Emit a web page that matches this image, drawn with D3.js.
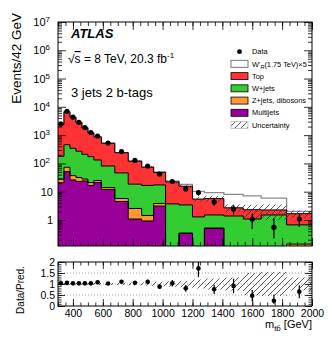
<!DOCTYPE html>
<html>
<head>
<meta charset="utf-8">
<script src="https://cdn.jsdelivr.net/npm/d3@7"></script>
<style>
body { margin: 0; background: #fff; }
text { font-family: "Liberation Sans", Arial, Helvetica, sans-serif; fill: #000; }
</style>
</head>
<body>
<div id="chart"></div>
<script>
// m_tb bins (GeV) and contents in events / 42 GeV
var binEdges = [300,340,380,420,460,500,540,590,680,770,860,940,1020,1110,1200,1280,1410,1540,1660,1830,2000];
var multijets     = [20.8,51,26,23,24,16.6,21,12,4.5,1.08,0.92,3.1,0,0.34,0,0.51,0,0,0,0];
var zjetsDibosons = [6.6,22,11,8.8,4,4.4,3.9,2,1.25,1.47,0.52,0.73,0,0,0,0,0,0,0,0.14];
var wjets         = [150.6,385,305,238,182,152,107,67,40.3,15.9,15.2,13.5,3.7,3.06,1.28,0.99,1.38,1.08,1.5,0.53];
var topBkg        = [2217,6147,3891,2481,1593,1027,728,435,193,101.6,57,30.7,18.5,12.2,4.2,4.2,1.31,1.22,0.76,1.0];
var wprimeX5      = [0.1,0.1,0.1,0.1,0.15,0.15,0.2,0.3,0.4,0.6,0.8,1.1,1.5,2.6,4.7,3.5,5.3,4.75,3.7,0.35];
var dataVals      = [2467,6935,4360,2834,1857,1236,929,526,263,127,81,42.2,22.9,12.5,9.37,4.33,2.45,1.08,0.543,1.08];
var dataErrUp     = [50,85,68,55,44,36,28,16,11,7.7,6.5,4.7,3.3,2.4,2.2,1.2,0.89,0.6,0.6,0.5];
var dataErrDn     = [50,85,68,55,44,36,28,16,11,7.7,6.5,4.7,3.3,2.4,2.2,1.2,0.89,0.6,0.32,0.5];
var bkgRelUnc     = [0.03,0.03,0.03,0.03,0.03,0.04,0.04,0.05,0.06,0.07,0.08,0.1,0.12,0.15,0.2,0.25,0.3,0.5,0.55,0.3];

var xTickLabels = [400,600,800,1000,1200,1400,1600,1800,2000];
var yDecades = [1,10,100,1000,10000,100000,1000000,10000000];
var ratioTicks = [0,0.5,1,1.5,2];
var legendNames = ["Data","W'R(1.75 TeV)\u00d75","Top","W+jets","Z+jets, dibosons","Multijets","Uncertainty"];

var colors = {mj: "#990099", zj: "#ff9933", wj: "#33cc33", top: "#ff3333"};

var W = 332, H = 344;
var left = 58, right = 312, mainTop = 22, mainBot = 246, ratTop = 262, ratBot = 306;

var svg = d3.select("#chart").append("svg")
    .attr("width", W).attr("height", H);

var defs = svg.append("defs");
var hatch = defs.append("pattern").attr("id", "hatch")
    .attr("patternUnits", "userSpaceOnUse").attr("width", 6).attr("height", 6);
hatch.append("path").attr("d", "M0,6 L6,0 M-1,1 L1,-1 M5,7 L7,5")
    .attr("stroke", "#333").attr("stroke-width", 0.8);
defs.append("clipPath").attr("id", "clipMain").append("rect")
    .attr("x", left).attr("y", mainTop).attr("width", right - left).attr("height", mainBot - mainTop);
defs.append("clipPath").attr("id", "clipRatio").append("rect")
    .attr("x", left).attr("y", ratTop).attr("width", right - left).attr("height", ratBot - ratTop);

var x = d3.scaleLinear().domain([300, 2000]).range([left, right]);
var y = d3.scaleLog().domain([0.12, 1e7]).range([mainBot, mainTop]);
var yr = d3.scaleLinear().domain([0, 2]).range([ratBot, ratTop]);
var clampV = function(v) { return Math.max(v, 0.05); };

var bins = binEdges.slice(0, -1).map(function(lo, i) {
    return {lo: lo, hi: binEdges[i + 1], mj: multijets[i], zj: zjetsDibosons[i], wj: wjets[i], top: topBkg[i]};
});
var stack = d3.stack().keys(["mj", "zj", "wj", "top"])(bins);
var total = bins.map(function(b) { return b.mj + b.zj + b.wj + b.top; });

function steps(lowF, highF) {
    var pts = [];
    bins.forEach(function(b, i) {
        pts.push([b.lo, lowF(i), highF(i)]);
        pts.push([b.hi, lowF(i), highF(i)]);
    });
    return pts;
}

var area = d3.area()
    .x(function(d) { return x(d[0]); })
    .y0(function(d) { return y(clampV(d[1])); })
    .y1(function(d) { return y(clampV(d[2])); });
var topLine = d3.line()
    .x(function(d) { return x(d[0]); })
    .y(function(d) { return y(clampV(d[2])); });

var gMain = svg.append("g").attr("clip-path", "url(#clipMain)");

// signal stacked on background, drawn behind the stack
var sigPts = steps(function() { return 0.05; }, function(i) { return total[i] + wprimeX5[i]; });
gMain.append("path").attr("d", area(sigPts)).attr("fill", "#fff");
gMain.append("path").attr("d", topLine(sigPts))
    .attr("fill", "none").attr("stroke", "#8c8c8c").attr("stroke-width", 1.3);

stack.forEach(function(s) {
    var pts = steps(function(i) { return s[i][0]; }, function(i) { return s[i][1]; });
    gMain.append("path").attr("d", area(pts)).attr("fill", colors[s.key]);
});
stack.forEach(function(s) {
    var pts = steps(function(i) { return s[i][0]; }, function(i) { return s[i][1]; });
    gMain.append("path").attr("d", topLine(pts))
        .attr("fill", "none").attr("stroke", "#000").attr("stroke-width", 1);
});

// uncertainty band
var uncPts = steps(function(i) { return total[i] * (1 - bkgRelUnc[i]); },
                   function(i) { return total[i] * (1 + bkgRelUnc[i]); });
gMain.append("path").attr("d", area(uncPts)).attr("fill", "url(#hatch)");

// data
var gData = gMain.append("g");
bins.forEach(function(b, i) {
    var cx = x((b.lo + b.hi) / 2);
    gData.append("line").attr("x1", cx).attr("x2", cx)
        .attr("y1", y(clampV(dataVals[i] - dataErrDn[i]))).attr("y2", y(dataVals[i] + dataErrUp[i]))
        .attr("stroke", "#000").attr("stroke-width", 1.2);
    gData.append("circle").attr("cx", cx).attr("cy", y(dataVals[i])).attr("r", 2.6).attr("fill", "#000");
});

// ratio panel
var gRat = svg.append("g").attr("clip-path", "url(#clipRatio)");
[0.5, 1, 1.5].forEach(function(v) {
    gRat.append("line").attr("x1", left).attr("x2", right).attr("y1", yr(v)).attr("y2", yr(v))
        .attr("stroke", "#888").attr("stroke-width", 0.8).attr("stroke-dasharray", "1,2");
});
var ratArea = d3.area()
    .x(function(d) { return x(d[0]); })
    .y0(function(d) { return yr(d[1]); })
    .y1(function(d) { return yr(d[2]); });
gRat.append("path")
    .attr("d", ratArea(steps(function(i) { return 1 - bkgRelUnc[i]; }, function(i) { return 1 + bkgRelUnc[i]; })))
    .attr("fill", "url(#hatch)");
bins.forEach(function(b, i) {
    var cx = x((b.lo + b.hi) / 2);
    var r = dataVals[i] / total[i];
    gRat.append("line").attr("x1", cx).attr("x2", cx)
        .attr("y1", yr(r - dataErrDn[i] / total[i])).attr("y2", yr(r + dataErrUp[i] / total[i]))
        .attr("stroke", "#000").attr("stroke-width", 1.2);
    gRat.append("circle").attr("cx", cx).attr("cy", yr(r)).attr("r", 2.3).attr("fill", "#000");
});

// axes and ticks (ROOT style: ticks inside on all sides)
var xMinor = d3.range(300, 2001, 50);
function xTicks(yPos, len, lenMin, orient) {
    var ax = orient === "bottom" ? d3.axisBottom(x) : d3.axisTop(x);
    svg.append("g").attr("transform", "translate(0," + yPos + ")")
        .call(ax.tickValues(xMinor).tickSize(-lenMin).tickFormat(""))
        .call(function(g) { g.select(".domain").remove(); });
    svg.append("g").attr("transform", "translate(0," + yPos + ")")
        .call(ax.tickValues(xTickLabels).tickSize(-len).tickFormat(""))
        .call(function(g) { g.select(".domain").remove(); });
}
xTicks(mainBot, 8, 4, "bottom");
xTicks(mainTop, 8, 4, "top");
xTicks(ratTop, 7, 3.5, "top");
var xLab = svg.append("g").attr("transform", "translate(0," + ratBot + ")")
    .call(d3.axisBottom(x).tickValues(xTickLabels).tickSize(-7).tickPadding(4).tickFormat(d3.format("d")))
    .call(function(g) { g.select(".domain").remove(); });
xLab.selectAll("text").attr("font-size", "10.5px").attr("font-family", null);
svg.append("g").attr("transform", "translate(0," + ratBot + ")")
    .call(d3.axisBottom(x).tickValues(xMinor).tickSize(-3.5).tickFormat(""))
    .call(function(g) { g.select(".domain").remove(); });

var yMinor = [];
yDecades.concat([0.1]).forEach(function(d) {
    for (var k = 2; k <= 9; k++) if (d * k > 0.12 && d * k < 1e7) yMinor.push(d * k);
});
[[d3.axisLeft, left], [d3.axisRight, right]].forEach(function(a) {
    svg.append("g").attr("transform", "translate(" + a[1] + ",0)")
        .call(a[0](y).tickValues(yMinor).tickSize(-4).tickFormat(""))
        .call(function(g) { g.select(".domain").remove(); });
    svg.append("g").attr("transform", "translate(" + a[1] + ",0)")
        .call(a[0](y).tickValues(yDecades).tickSize(-8).tickFormat(""))
        .call(function(g) { g.select(".domain").remove(); });
    svg.append("g").attr("transform", "translate(" + a[1] + ",0)")
        .call(a[0](yr).tickValues(d3.range(0, 2.01, 0.1)).tickSize(-3.5).tickFormat(""))
        .call(function(g) { g.select(".domain").remove(); });
    svg.append("g").attr("transform", "translate(" + a[1] + ",0)")
        .call(a[0](yr).tickValues(ratioTicks).tickSize(-7).tickFormat(""))
        .call(function(g) { g.select(".domain").remove(); });
});
svg.selectAll(".tick line").attr("stroke", "#000").attr("stroke-width", 0.8);

// y labels main
var yl = svg.append("g");
yDecades.forEach(function(d) {
    var e = Math.round(Math.log10(d));
    var t = yl.append("text").attr("y", y(d)).attr("dy", "0.36em")
        .attr("text-anchor", "end").attr("font-size", "11px");
    if (e < 2) {
        t.attr("x", left - 5).text(d);
    } else {
        t.attr("x", left - 8).text("10");
        t.append("tspan").attr("dy", "-0.5em").attr("font-size", "8px").text(e);
    }
});
ratioTicks.forEach(function(v) {
    yl.append("text").attr("x", left - 3).attr("y", yr(v)).attr("dy", "0.36em")
        .attr("text-anchor", "end").attr("font-size", "10.5px").text(v);
});

// frames
svg.append("rect").attr("x", left).attr("y", mainTop).attr("width", right - left).attr("height", mainBot - mainTop)
    .attr("fill", "none").attr("stroke", "#000").attr("stroke-width", 1);
svg.append("rect").attr("x", left).attr("y", ratTop).attr("width", right - left).attr("height", ratBot - ratTop)
    .attr("fill", "none").attr("stroke", "#000").attr("stroke-width", 1);

// titles
svg.append("text").attr("transform", "translate(21,13) rotate(-90)")
    .attr("text-anchor", "end").attr("font-size", "13.5px").text("Events/42 GeV");
svg.append("text").attr("transform", "translate(24,290) rotate(-90)")
    .attr("text-anchor", "middle").attr("font-size", "10px").text("Data/Pred.");
var xt = svg.append("text").attr("x", right).attr("y", 328).attr("text-anchor", "end").attr("font-size", "11px");
xt.append("tspan").text("m");
xt.append("tspan").attr("dy", "3").attr("font-size", "8px").text("tb\u0304");
xt.append("tspan").attr("dy", "-3").text(" [GeV]");

svg.append("text").attr("x", 71).attr("y", 37.5).attr("font-size", "13px")
    .attr("font-weight", "bold").attr("font-style", "italic").text("ATLAS");
var rs = svg.append("text").attr("x", 68).attr("y", 63).attr("font-size", "12px");
rs.append("tspan").text("\u221a");
rs.append("tspan").attr("text-decoration", "overline").text("s");
rs.append("tspan").text(" = 8 TeV, 20.3 fb");
rs.append("tspan").attr("dy", "-5").attr("font-size", "8px").text("-1");
svg.append("text").attr("x", 71).attr("y", 96.5).attr("font-size", "13px").text("3 jets 2 b-tags");

// legend
var lg = svg.append("g").attr("transform", "translate(231,0)");
var rowY = d3.scalePoint().domain(legendNames).range([51.7, 125]);
var boxFill = [null, "#fff", colors.top, colors.wj, colors.zj, colors.mj, "url(#hatch)"];
legendNames.forEach(function(name, i) {
    var cy = rowY(name);
    if (i === 0) {
        lg.append("circle").attr("cx", 8.5).attr("cy", cy).attr("r", 2.4).attr("fill", "#000");
    } else {
        lg.append("rect").attr("x", 0).attr("y", cy - 3.5).attr("width", 17).attr("height", 7)
            .attr("fill", boxFill[i])
            .attr("stroke", i === 1 ? "#8c8c8c" : (i === 6 ? "#bbb" : "#000"))
            .attr("stroke-width", i === 1 ? 1.2 : 0.8);
    }
    var t = lg.append("text").attr("x", 21).attr("y", cy).attr("dy", "0.36em").attr("font-size", "7.4px");
    if (i === 1) {
        t.append("tspan").text("W'");
        t.append("tspan").attr("dy", "2").attr("font-size", "5.5px").text("R");
        t.append("tspan").attr("dy", "-2").text("(1.75 TeV)\u00d75");
    } else {
        t.text(name);
    }
});
</script>
</body>
</html>
